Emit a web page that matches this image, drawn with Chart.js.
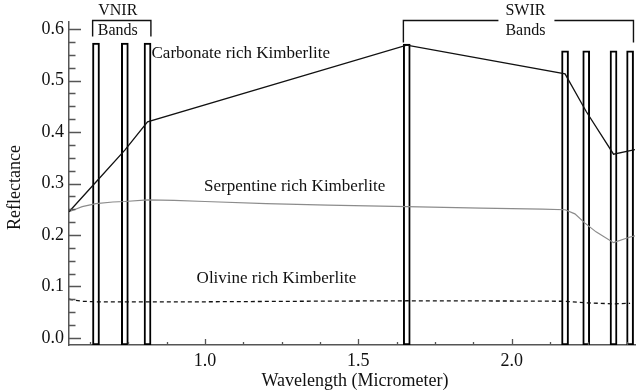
<!DOCTYPE html>
<html>
<head>
<meta charset="utf-8">
<script src="https://cdn.jsdelivr.net/npm/chart.js@4.4.1/dist/chart.umd.min.js"></script>
<style>
  html, body { margin: 0; padding: 0; background: #fff; }
  #wrap { width: 640px; height: 392px; }
</style>
</head>
<body>
<div id="wrap"><canvas id="chart"></canvas></div>
<script>
// ASTER bands (micrometer) and the height of each band bar
var bandCenters = [0.645, 0.739, 0.813, 1.658, 2.174, 2.243, 2.332, 2.386];
var bandTops = [0.573, 0.573, 0.573, 0.571, 0.558, 0.558, 0.558, 0.558];

// Carbonate rich Kimberlite (resampled at the bands)
var carbonateX = [0.557, 0.645, 0.739, 0.813, 1.658, 2.174, 2.243, 2.332, 2.402];
var carbonateY = [0.245, 0.303, 0.365, 0.420, 0.569, 0.513, 0.440, 0.357, 0.366];

// Serpentine rich Kimberlite
var serpentineX = [0.557, 0.60, 0.645, 0.70, 0.739, 0.813, 0.90, 1.0, 1.2, 1.4, 1.658, 1.9, 2.1, 2.174, 2.206, 2.239, 2.275, 2.332, 2.386, 2.402];
var serpentineY = [0.245, 0.255, 0.261, 0.264, 0.265, 0.268, 0.267, 0.265, 0.261, 0.258, 0.255, 0.252, 0.250, 0.249, 0.241, 0.223, 0.206, 0.185, 0.196, 0.198];

// Olivine rich Kimberlite
var olivineX = [0.557, 0.60, 0.645, 0.813, 1.0, 1.3, 1.658, 2.0, 2.174, 2.243, 2.332, 2.386];
var olivineY = [0.075, 0.071, 0.070, 0.070, 0.070, 0.071, 0.072, 0.0715, 0.071, 0.068, 0.066, 0.067];

// axis ticks
var xTickLabels = [1.0, 1.5, 2.0];
var yTickLabels = [0.0, 0.1, 0.2, 0.3, 0.4, 0.5, 0.6];
var X_MIN = 0.557, X_MAX = 2.402;
var Y_MIN = -0.014, Y_MAX = 0.614;

// curve names written on the plot (anchored in data units)
var curveNames = ['Carbonate rich Kimberlite', 'Serpentine rich Kimberlite', 'Olivine rich Kimberlite'];
var curveNameX = [0.826, 0.997, 0.973];
var curveNameY = [0.544, 0.286, 0.106];

var SERIF = '"Liberation Serif", "Times New Roman", serif';
var AXIS_COLOR = '#555';

function toPoints(xs, ys) {
  return xs.map(function (x, i) { return { x: x, y: ys[i] }; });
}

function isLabelled(v, list) {
  return list.some(function (l) { return Math.abs(l - v) < 1e-6; });
}

function stepTicks(min, max, step) {
  var out = [];
  for (var v = Math.ceil(min / step - 1e-9) * step; v <= max + 1e-9; v += step) {
    out.push({ value: Math.round(v * 10000) / 10000 });
  }
  return out;
}

// ticks pointing into the plot, brackets, curve names and axis titles
var decor = {
  id: 'decor',
  afterDraw: function (chart) {
    var ctx = chart.ctx;
    var xs = chart.scales.x, ys = chart.scales.y;
    var area = chart.chartArea;
    ctx.save();

    ctx.strokeStyle = AXIS_COLOR;
    ctx.lineWidth = 1.3;
    ctx.beginPath();
    xs.ticks.forEach(function (t) {
      var px = Math.round(xs.getPixelForValue(t.value)) + 0.5;
      var len = isLabelled(t.value, xTickLabels) ? 6 : 3;
      ctx.moveTo(px, area.bottom);
      ctx.lineTo(px, area.bottom - len);
    });
    ys.ticks.forEach(function (t) {
      var py = Math.round(ys.getPixelForValue(t.value)) + 0.5;
      var len = isLabelled(t.value, yTickLabels) ? 12 : 6.5;
      ctx.moveTo(area.left, py);
      ctx.lineTo(area.left + len, py);
    });
    ctx.stroke();

    // band group brackets
    var halfW = 0.011;
    var vL = xs.getPixelForValue(bandCenters[0] - halfW);
    var vR = xs.getPixelForValue(bandCenters[2] + halfW);
    var sL = xs.getPixelForValue(bandCenters[3] - halfW);
    var sR = xs.getPixelForValue(bandCenters[7] + halfW);
    var top = area.top - 1.5;
    ctx.strokeStyle = '#111';
    ctx.lineWidth = 1.4;
    ctx.beginPath();
    ctx.moveTo(vL, top + 16); ctx.lineTo(vL, top); ctx.lineTo(vR, top); ctx.lineTo(vR, top + 16);
    var sMid = (sL + sR) / 2 + 8;
    ctx.moveTo(sL, top + 22); ctx.lineTo(sL, top); ctx.lineTo(sMid - 28, top);
    ctx.moveTo(sMid + 28, top); ctx.lineTo(sR, top); ctx.lineTo(sR, top + 22);
    ctx.stroke();

    ctx.fillStyle = '#111';
    ctx.font = '16px ' + SERIF;
    ctx.textAlign = 'center';
    ctx.textBaseline = 'alphabetic';
    var vMid = (vL + vR) / 2 - 4;
    ctx.fillText('VNIR', vMid, 15);
    ctx.fillText('Bands', vMid, 35);
    ctx.fillText('SWIR', sMid - 1, 15);
    ctx.fillText('Bands', sMid - 1, 35);

    // curve names
    ctx.font = '17px ' + SERIF;
    ctx.textAlign = 'left';
    curveNames.forEach(function (name, i) {
      ctx.fillText(name, xs.getPixelForValue(curveNameX[i]), ys.getPixelForValue(curveNameY[i]));
    });

    // axis titles
    ctx.font = '18px ' + SERIF;
    ctx.textAlign = 'center';
    ctx.fillText('Wavelength (Micrometer)', (area.left + area.right) / 2 + 3, 386);
    ctx.translate(20, (area.top + area.bottom) / 2 + 4);
    ctx.rotate(-Math.PI / 2);
    ctx.fillText('Reflectance', 0, 0);

    ctx.restore();
  }
};

var chart = new Chart(document.getElementById('chart'), {
  type: 'line',
  data: {
    datasets: [
      {
        label: 'Carbonate rich Kimberlite',
        data: toPoints(carbonateX, carbonateY),
        borderColor: '#111',
        borderWidth: 1.3,
        pointRadius: 0,
        tension: 0,
        order: 1
      },
      {
        label: 'Serpentine rich Kimberlite',
        data: toPoints(serpentineX, serpentineY),
        borderColor: '#8c8c8c',
        borderWidth: 1.2,
        pointRadius: 0,
        tension: 0,
        order: 2
      },
      {
        label: 'Olivine rich Kimberlite',
        data: toPoints(olivineX, olivineY),
        borderColor: '#111',
        borderWidth: 1.3,
        borderDash: [4, 3],
        pointRadius: 0,
        tension: 0,
        order: 3
      },
      {
        type: 'bar',
        label: 'Bands',
        data: bandCenters.map(function (c, i) { return { x: c, y: [Y_MIN, bandTops[i]] }; }),
        backgroundColor: '#fff',
        borderColor: '#000',
        borderWidth: 2,
        borderSkipped: false,
        barThickness: 7,
        order: 10
      }
    ]
  },
  options: {
    responsive: true,
    maintainAspectRatio: false,
    animation: false,
    events: [],
    layout: { padding: { top: 22, right: 5, left: 0, bottom: 0 } },
    plugins: {
      legend: { display: false },
      tooltip: { enabled: false }
    },
    scales: {
      x: {
        type: 'linear',
        min: X_MIN,
        max: X_MAX,
        offset: false,
        afterBuildTicks: function (scale) { scale.ticks = stepTicks(X_MIN, X_MAX, 0.125); },
        afterFit: function (scale) { scale.height = 47; },
        grid: { display: true, drawOnChartArea: false, drawTicks: false, offset: false },
        border: { display: true, color: AXIS_COLOR, width: 1.5 },
        ticks: {
          autoSkip: false,
          maxRotation: 0,
          padding: 5,
          color: '#111',
          font: { family: SERIF, size: 18 },
          callback: function (v) { return isLabelled(v, xTickLabels) ? v.toFixed(1) : ''; }
        }
      },
      y: {
        min: Y_MIN,
        max: Y_MAX,
        afterBuildTicks: function (scale) { scale.ticks = stepTicks(0, 0.6, 0.025); },
        afterFit: function (scale) { scale.width = 69; },
        grid: { display: true, drawOnChartArea: false, drawTicks: false },
        border: { display: true, color: AXIS_COLOR, width: 1.5 },
        ticks: {
          autoSkip: false,
          padding: 5,
          color: '#111',
          font: { family: SERIF, size: 18 },
          callback: function (v) { return isLabelled(v, yTickLabels) ? v.toFixed(1) : ''; }
        }
      }
    }
  },
  plugins: [decor]
});
</script>
</body>
</html>
